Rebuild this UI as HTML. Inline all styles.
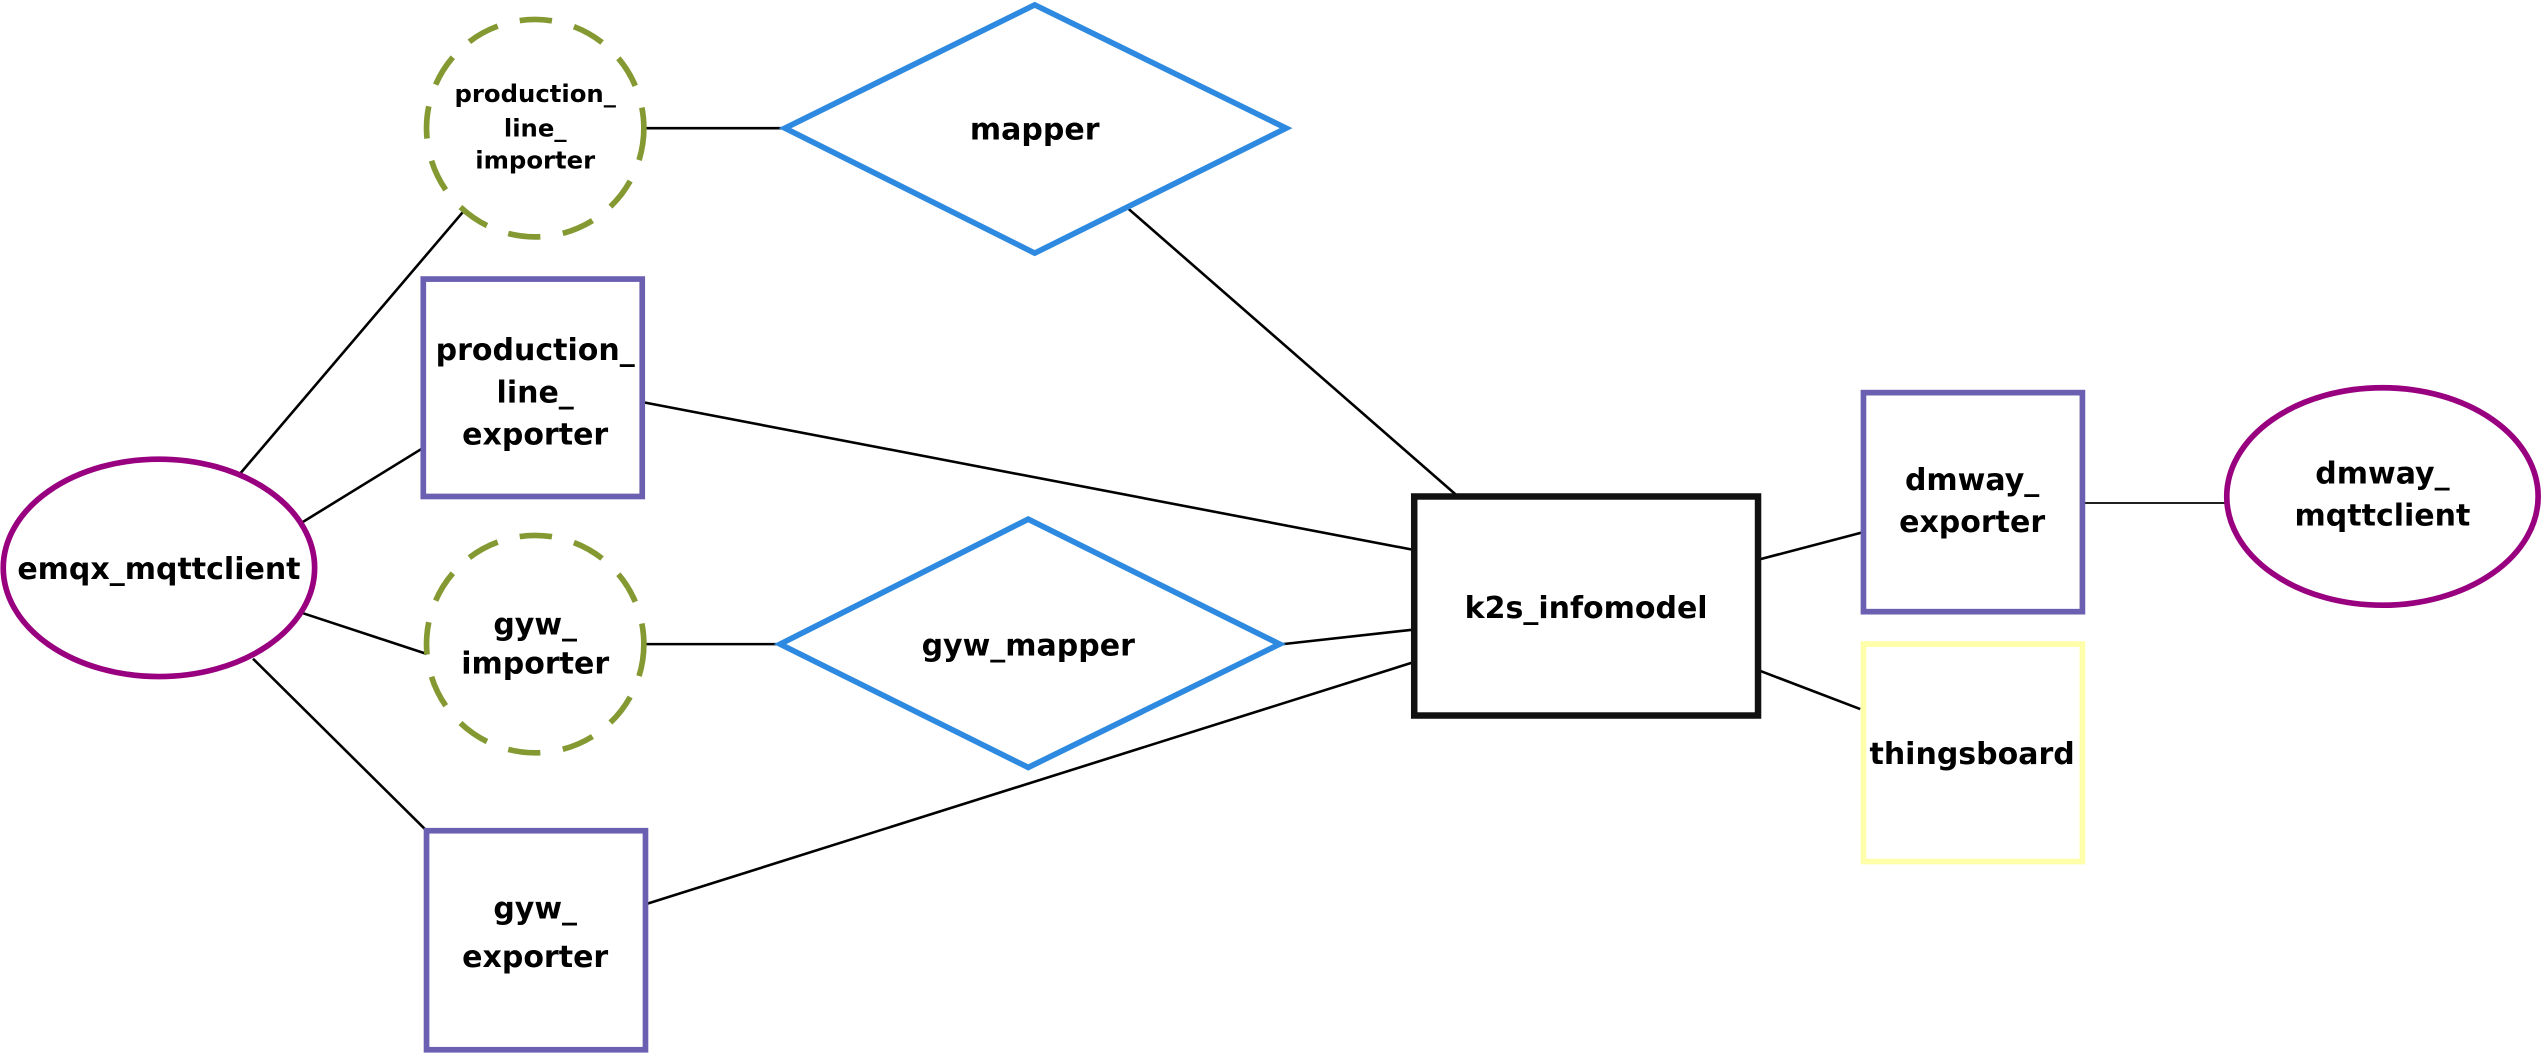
<!DOCTYPE html>
<html><head><meta charset="utf-8"><style>
html,body{margin:0;padding:0;background:#fff;}
svg{display:block;}
text{font-family:"DejaVu Sans","Liberation Sans",sans-serif;font-weight:bold;fill:#000;text-anchor:middle;}
</style></head><body>
<svg width="2543" height="1053" viewBox="0 0 1568 649" preserveAspectRatio="none" xmlns="http://www.w3.org/2000/svg">
<g stroke="#000" stroke-width="1.6" fill="none">
<line x1="148" y1="292" x2="286" y2="130"/>
<line x1="170" y1="332" x2="261" y2="276"/>
<line x1="187" y1="378" x2="263" y2="403"/>
<line x1="156" y1="406" x2="262" y2="511"/>
<line x1="397" y1="79" x2="484" y2="79"/>
<line x1="397" y1="397" x2="481" y2="397"/>
<line x1="695" y1="128" x2="899" y2="306"/>
<line x1="397" y1="248" x2="872" y2="339"/>
<line x1="791" y1="397" x2="872" y2="388"/>
<line x1="399" y1="557" x2="872" y2="408"/>
<line x1="1084" y1="345" x2="1149" y2="328"/>
<line x1="1084" y1="413" x2="1147" y2="437"/>
<line x1="1284" y1="310" x2="1373" y2="310" stroke-width="1.1"/>
</g>
<g stroke-width="3.5" fill="#fff">
<circle cx="330" cy="79" r="67" stroke="#859933" stroke-dasharray="20 14"/>
<circle cx="330" cy="397" r="67" stroke="#859933" stroke-dasharray="20 14"/>
<polygon points="484,79 638,3 793,79 638,156" stroke="#2e8ae0"/>
<polygon points="481,397 634,320 789,397 634,473" stroke="#2e8ae0"/>
<rect x="261" y="172" width="135" height="134" stroke="#6a5fb0"/>
<rect x="263" y="512" width="135" height="135" stroke="#6a5fb0"/>
<rect x="1149" y="242" width="135" height="135" stroke="#6a5fb0"/>
<rect x="1149" y="397" width="135" height="134" stroke="#ffffaa"/>
<rect x="872" y="306" width="212" height="135" stroke="#111" stroke-width="4"/>
<ellipse cx="98" cy="350" rx="96" ry="67" stroke="#990080"/>
<ellipse cx="1469" cy="306" rx="96" ry="67" stroke="#990080"/>
</g>
<g font-size="15">
<text x="330" y="63">production_</text>
<text x="330" y="84">line_</text>
<text x="330" y="104">importer</text>
</g>
<g font-size="18.5">
<text x="638" y="86">mapper</text>
<text x="330" y="222">production_</text>
<text x="330" y="248">line_</text>
<text x="330" y="274">exporter</text>
<text x="98" y="357">emqx_mqttclient</text>
<text x="330" y="391">gyw_</text>
<text x="330" y="415">importer</text>
<text x="634" y="404">gyw_mapper</text>
<text x="330" y="566">gyw_</text>
<text x="330" y="596">exporter</text>
<text x="978" y="381">k2s_infomodel</text>
<text x="1216" y="302">dmway_</text>
<text x="1216" y="328">exporter</text>
<text x="1216" y="471">thingsboard</text>
<text x="1469" y="298">dmway_</text>
<text x="1469" y="324">mqttclient</text>
</g>
</svg>
</body></html>
